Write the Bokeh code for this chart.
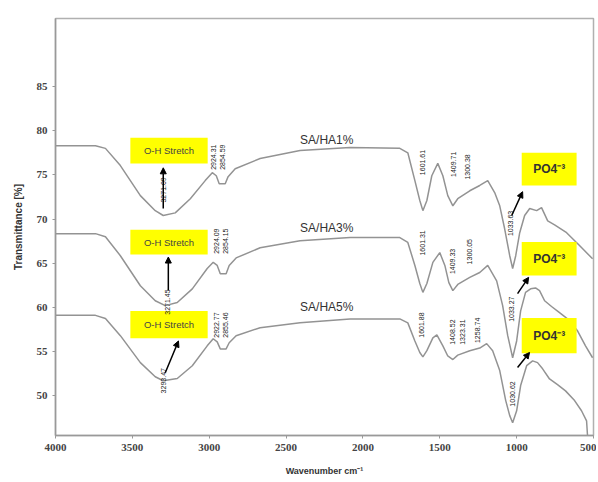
import math
from bokeh.plotting import figure
from bokeh.models import Arrow, NormalHead, FixedTicker, Range1d
from bokeh.core.properties import value
from bokeh.embed import file_html
from bokeh.resources import INLINE

# ---- data ----
wn1 = [4000, 3740, 3675, 3578, 3448, 3351, 3299, 3221, 3123, 3026, 2980, 2954, 2935, 2896, 2877, 2831,
       2669, 2409, 2084, 1760, 1708, 1662, 1630, 1610, 1584, 1552, 1513, 1480, 1448, 1415, 1383, 1305,
       1240, 1188, 1143, 1110, 1078, 1045, 1026, 1006, 980, 948, 915, 870, 838, 798, 753, 675, 591, 506]
t1 = [78.3, 78.3, 78.0, 76.05, 72.65, 70.95, 70.4, 70.7, 72.3, 74.35, 75.25, 74.9, 74.0, 74.0, 74.8, 75.7,
      76.85, 77.75, 78.1, 78.0, 77.5, 74.35, 72.1, 70.95, 72.1, 74.9, 76.3, 74.9, 72.65, 71.5, 72.3, 73.2,
      73.8, 74.35, 73.0, 71.5, 68.9, 65.85, 64.4, 65.85, 68.45, 70.4, 71.2, 70.95, 71.3, 69.8, 69.35, 68.45, 67.0, 65.5]

wn2 = [4000, 3740, 3675, 3578, 3448, 3351, 3286, 3208, 3110, 3013, 2974, 2948, 2928, 2890, 2870, 2825,
       2669, 2409, 2084, 1760, 1708, 1662, 1630, 1610, 1584, 1545, 1500, 1467, 1441, 1415, 1383, 1305,
       1240, 1188, 1130, 1091, 1058, 1026, 1000, 974, 942, 909, 877, 851, 818, 773, 721, 669, 604, 552, 506]
t2 = [68.35, 68.35, 68.0, 65.85, 62.45, 60.75, 60.2, 60.55, 62.1, 64.4, 65.1, 64.75, 63.8, 63.8, 64.75, 65.6,
      66.75, 67.55, 67.9, 67.9, 67.35, 64.75, 62.7, 61.7, 62.7, 65.1, 66.2, 64.75, 62.8, 61.9, 62.6, 63.4,
      63.95, 64.75, 63.0, 60.2, 56.8, 54.3, 56.2, 59.6, 61.7, 62.1, 62.2, 61.9, 60.75, 60.1, 59.4, 58.7, 57.35, 55.65, 54.3]

wn3 = [4000, 3740, 3675, 3578, 3448, 3351, 3299, 3208, 3110, 3013, 2974, 2948, 2928, 2890, 2870, 2825,
       2669, 2409, 2084, 1760, 1708, 1662, 1630, 1610, 1584, 1545, 1519, 1480, 1448, 1415, 1383, 1305,
       1240, 1195, 1156, 1110, 1071, 1045, 1026, 1000, 974, 935, 896, 864, 831, 786, 734, 682, 623, 578, 545, 539]
t3 = [59.1, 59.1, 58.75, 56.8, 53.75, 52.15, 51.7, 51.95, 53.4, 55.65, 56.45, 56.1, 55.3, 55.3, 56.0, 56.8,
      57.7, 58.25, 58.7, 58.7, 58.25, 56.2, 54.9, 54.4, 55.1, 56.55, 56.9, 55.65, 54.5, 54.1, 54.6, 55.1,
      55.4, 55.9, 55.1, 52.85, 49.45, 47.75, 46.95, 48.3, 51.15, 53.4, 53.95, 53.75, 53.05, 51.9, 51.25, 50.55, 49.45, 48.3, 47.15, 45.5]

series_names = ["SA/HA1%", "SA/HA3%", "SA/HA5%"]
x_ticks = [4000, 3500, 3000, 2500, 2000, 1500, 1000, 500]
y_ticks = [50, 55, 60, 65, 70, 75, 80, 85]

# peak labels: (wavenumber, transmittance centre, text)
peaks = [
    (3299, 73.3, "3271.09"), (2974, 77.0, "2924.31"), (2915, 77.0, "2854.59"),
    (1610, 76.4, "1601.61"), (1413, 76.2, "1409.71"), (1318, 75.9, "1300.38"), (1038, 69.5, "1033.63"),
    (3270, 60.6, "3271.45"), (2955, 67.5, "2924.09"), (2896, 67.5, "2854.15"),
    (1610, 67.3, "1601.31"), (1420, 65.2, "1409.33"), (1305, 66.3, "1300.05"), (1032, 59.8, "1033.27"),
    (3299, 51.7, "3293.47"), (2955, 58.0, "2922.77"), (2896, 58.0, "2855.46"),
    (1616, 58.0, "1601.88"), (1415, 57.2, "1408.52"), (1350, 57.2, "1323.31"), (1253, 57.4, "1258.74"),
    (1030, 50.2, "1030.62"),
]

p = figure(width=596, height=480, output_backend="svg", toolbar_location=None,
           x_range=Range1d(4000, 500), y_range=Range1d(45.5, 92.7),
           min_border_left=55, min_border_right=3, min_border_top=18, min_border_bottom=45)
p.xgrid.visible = False
p.ygrid.visible = False
p.outline_line_color = "#b0b0b0"
p.outline_line_width = 1.5
p.background_fill_color = "white"

for ax in (p.xaxis[0], p.yaxis[0]):
    ax.axis_line_color = "#999999"
    ax.axis_line_width = 1.5
    ax.major_tick_line_color = "#999999"
    ax.major_tick_out = 3
    ax.major_tick_in = 0
    ax.minor_tick_line_color = None
    ax.major_label_text_font = "Liberation Serif"
    ax.major_label_text_font_size = "11px"
    ax.major_label_text_font_style = "bold"
    ax.major_label_text_color = "#444444"
    ax.axis_label_text_font = "Liberation Sans"
    ax.axis_label_text_font_style = "bold"
    ax.axis_label_text_color = "#333333"
p.xaxis.ticker = FixedTicker(ticks=x_ticks)
p.yaxis.ticker = FixedTicker(ticks=y_ticks)
p.xaxis.axis_label = "Wavenumber cm\u207b\u00b9"
p.xaxis.axis_label_text_font_size = "9px"
p.xaxis.axis_label_standoff = 12
p.yaxis.axis_label = "Transmittance [%]"
p.yaxis.axis_label_text_font_size = "10px"
p.yaxis.axis_label_standoff = 10

curve_color = "#939393"
for wn, t in ((wn1, t1), (wn2, t2), (wn3, t3)):
    p.line(wn, t, line_color=curve_color, line_width=1.5)

# series labels
p.text(x=[2409, 2409, 2409], y=[78.9, 69.0, 60.0], text=series_names,
       text_font=value("Liberation Sans"), text_font_size="12px", text_color="#333333",
       text_baseline="middle", text_align="left")

# O-H stretch boxes
oh_left, oh_right = 3513, 3010
oh_tops = [79.2, 68.8, 59.6]
oh_bots = [76.3, 66.0, 56.5]
p.quad(left=[oh_left] * 3, right=[oh_right] * 3, top=oh_tops, bottom=oh_bots,
       fill_color="#ffff00", line_color=None)
p.text(x=[(oh_left + oh_right) / 2] * 3, y=[(a + b) / 2 for a, b in zip(oh_tops, oh_bots)],
       text=["O-H Stretch"] * 3, text_font=value("Liberation Sans"), text_font_size="9.5px",
       text_color="#444444", text_align="center", text_baseline="middle")

# PO4 boxes
po_left, po_right = 967, 610
po_tops = [77.5, 67.4, 58.8]
po_bots = [73.8, 63.6, 54.8]
p.quad(left=[po_left] * 3, right=[po_right] * 3, top=po_tops, bottom=po_bots,
       fill_color="#ffff00", line_color=None)
p.text(x=[(po_left + po_right) / 2] * 3, y=[(a + b) / 2 for a, b in zip(po_tops, po_bots)],
       text=["PO4\u207b\u00b3"] * 3, text_font=value("Liberation Sans"), text_font_size="12px",
       text_font_style="bold", text_color="#333333", text_align="center", text_baseline="middle")

# peak labels (vertical)
p.text(x=[a for a, b, c in peaks], y=[b for a, b, c in peaks], text=[c for a, b, c in peaks],
       angle=math.pi / 2, text_font=value("Liberation Sans"), text_font_size="7px",
       text_color="#222222", text_align="center", text_baseline="middle")

# arrows
arrows = [
    (3299, 71.2, 3299, 75.8), (3266, 61.9, 3266, 65.7), (3286, 52.6, 3200, 56.2),
    (1032, 70.4, 961, 73.1), (994, 61.55, 922, 63.4), (994, 53.2, 916, 54.9),
]
for x0, y0, x1, y1 in arrows:
    p.add_layout(Arrow(end=NormalHead(size=6, fill_color="black", line_color="black"),
                       x_start=x0, y_start=y0, x_end=x1, y_end=y1,
                       line_color="black", line_width=1.5))

open("out.html", "w").write(file_html(p, INLINE))
